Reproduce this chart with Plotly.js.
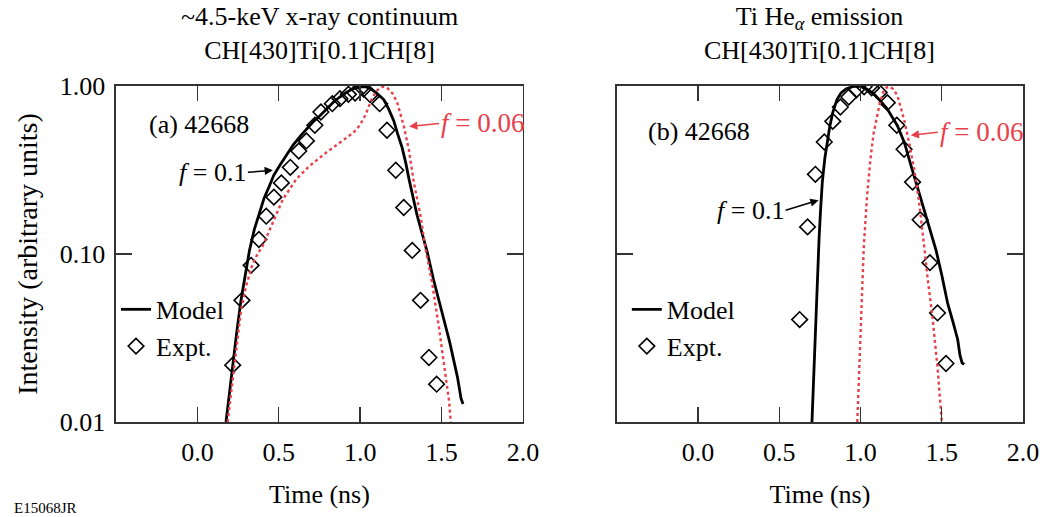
<!DOCTYPE html>
<html>
<head>
<meta charset="utf-8">
<script src="https://cdn.plot.ly/plotly-3.0.1.min.js"></script>
<style>html,body{margin:0;padding:0;background:#fff;}#chart{width:1042px;height:517px;}</style>
</head>
<body>
<div id="chart"></div>
<script>
// ---------- Data ----------
// Panel (a): ~4.5-keV x-ray continuum
const aExptX = [0.217, 0.274, 0.330, 0.378, 0.423, 0.470, 0.516, 0.571, 0.623, 0.670, 0.722, 0.759, 0.829, 0.876, 0.928, 0.969, 1.021, 1.062, 1.120, 1.165, 1.219, 1.268, 1.320, 1.371, 1.423, 1.470];
const aExptY = [0.0218, 0.053, 0.0856, 0.122, 0.168, 0.218, 0.265, 0.328, 0.41, 0.471, 0.584, 0.70, 0.785, 0.841, 0.892, 0.909, 0.96, 0.888, 0.785, 0.545, 0.315, 0.189, 0.105, 0.053, 0.0242, 0.0168];

const aModelX = [0.176, 0.195, 0.217, 0.243, 0.268, 0.295, 0.320, 0.350, 0.380, 0.410, 0.443, 0.470, 0.505, 0.545, 0.588, 0.630, 0.670, 0.710, 0.753, 0.795, 0.835, 0.875, 0.918, 0.960, 1.000, 1.030, 1.062, 1.100, 1.145, 1.175, 1.207, 1.230, 1.258, 1.280, 1.300, 1.350, 1.371, 1.412, 1.450, 1.500, 1.550, 1.598, 1.610, 1.620, 1.632];
const aModelY = [0.010, 0.0145, 0.0223, 0.035, 0.053, 0.078, 0.105, 0.14, 0.175, 0.215, 0.255, 0.295, 0.335, 0.385, 0.445, 0.50, 0.55, 0.61, 0.665, 0.735, 0.80, 0.86, 0.92, 0.965, 0.99, 0.99, 0.966, 0.91, 0.83, 0.73, 0.62, 0.52, 0.43, 0.35, 0.28, 0.17, 0.145, 0.103, 0.071, 0.046, 0.030, 0.0185, 0.0155, 0.0138, 0.0128];

const aF006X = [0.186, 0.205, 0.226, 0.248, 0.268, 0.300, 0.340, 0.370, 0.402, 0.464, 0.526, 0.608, 0.691, 0.794, 0.897, 0.950, 0.980, 1.005, 1.031, 1.052, 1.072, 1.103, 1.134, 1.165, 1.200, 1.227, 1.268, 1.299, 1.330, 1.371, 1.402, 1.443, 1.484, 1.526, 1.546, 1.557];
const aF006Y = [0.010, 0.0145, 0.0212, 0.032, 0.046, 0.065, 0.0877, 0.100, 0.112, 0.154, 0.212, 0.279, 0.336, 0.403, 0.473, 0.52, 0.554, 0.60, 0.667, 0.75, 0.84, 0.94, 0.99, 0.98, 0.90, 0.80, 0.58, 0.42, 0.267, 0.169, 0.107, 0.0667, 0.0368, 0.0185, 0.0135, 0.010];

// Panel (b): Ti He-alpha emission
const bExptX = [0.625, 0.674, 0.722, 0.777, 0.829, 0.876, 0.928, 0.975, 1.022, 1.068, 1.115, 1.165, 1.223, 1.268, 1.320, 1.367, 1.427, 1.474, 1.526];
const bExptY = [0.0407, 0.145, 0.298, 0.464, 0.616, 0.75, 0.86, 0.95, 0.99, 0.975, 0.916, 0.796, 0.584, 0.42, 0.268, 0.16, 0.0888, 0.0446, 0.0223];

const bModelX = [0.701, 0.712, 0.724, 0.735, 0.745, 0.755, 0.765, 0.780, 0.795, 0.810, 0.830, 0.855, 0.880, 0.910, 0.950, 0.980, 1.020, 1.080, 1.120, 1.165, 1.227, 1.270, 1.309, 1.350, 1.390, 1.430, 1.465, 1.500, 1.536, 1.570, 1.598, 1.612, 1.625, 1.638];
const bModelY = [0.010, 0.020, 0.040, 0.075, 0.125, 0.19, 0.27, 0.37, 0.47, 0.57, 0.70, 0.83, 0.91, 0.96, 0.99, 1.00, 0.985, 0.90, 0.82, 0.73, 0.58, 0.46, 0.34, 0.25, 0.185, 0.14, 0.105, 0.075, 0.051, 0.039, 0.031, 0.025, 0.0225, 0.022];

const bF006X = [0.980, 0.995, 1.010, 1.020, 1.040, 1.060, 1.080, 1.100, 1.120, 1.140, 1.160, 1.180, 1.200, 1.227, 1.250, 1.268, 1.299, 1.330, 1.360, 1.382, 1.396, 1.412, 1.443, 1.474, 1.495, 1.500];
const bF006Y = [0.010, 0.025, 0.065, 0.11, 0.22, 0.36, 0.52, 0.66, 0.80, 0.92, 0.98, 0.99, 0.96, 0.88, 0.74, 0.63, 0.46, 0.32, 0.205, 0.14, 0.102, 0.073, 0.042, 0.021, 0.0107, 0.010];

// Tick labels
const xTickVals = [0, 0.5, 1.0, 1.5, 2.0];
const xTickText = ['0.0', '0.5', '1.0', '1.5', '2.0'];
const yTickVals = [0.01, 0.1, 1];
const yTickText = ['0.01', '0.10', '1.00'];

// ---------- Styling ----------
const FONT = '"Liberation Serif", "Times New Roman", Times, serif';
const RED = '#e8404a';
const AX = '#333333';

const lineModel = {color: '#000', width: 2.8};
const lineF006 = {color: RED, width: 2.4, dash: 'dot'};
const mkExpt = {symbol: 'diamond-open', size: 12, color: '#000', line: {width: 1.6, color: '#000'}};

const traces = [
  {x: aModelX, y: aModelY, xaxis: 'x', yaxis: 'y', mode: 'lines', line: lineModel, name: 'Model', legend: 'legend', showlegend: true, hoverinfo: 'skip'},
  {x: aExptX, y: aExptY, xaxis: 'x', yaxis: 'y', mode: 'markers', marker: mkExpt, name: 'Expt.', legend: 'legend', showlegend: true, hoverinfo: 'skip'},
  {x: aF006X, y: aF006Y, xaxis: 'x', yaxis: 'y', mode: 'lines', line: lineF006, name: 'f = 0.06', showlegend: false, hoverinfo: 'skip'},
  {x: bModelX, y: bModelY, xaxis: 'x2', yaxis: 'y2', mode: 'lines', line: lineModel, name: 'Model', legend: 'legend2', showlegend: true, hoverinfo: 'skip'},
  {x: bExptX, y: bExptY, xaxis: 'x2', yaxis: 'y2', mode: 'markers', marker: mkExpt, name: 'Expt.', legend: 'legend2', showlegend: true, hoverinfo: 'skip'},
  {x: bF006X, y: bF006Y, xaxis: 'x2', yaxis: 'y2', mode: 'lines', line: lineF006, name: 'f = 0.06', showlegend: false, hoverinfo: 'skip'}
];

function xAxis(domain, anchor) {
  return {
    domain: domain, anchor: anchor, range: [-0.5, 2.0],
    tickmode: 'array', tickvals: xTickVals, ticktext: xTickText,
    ticks: 'inside', ticklen: 15, tickwidth: 1.4, tickcolor: AX,
    showline: true, linecolor: AX, linewidth: 1.6, mirror: 'ticks',
    showgrid: false, zeroline: false, ticklabelstandoff: 6,
    tickfont: {family: FONT, size: 26, color: '#000'},
    title: {text: 'Time (ns)', standoff: 19, font: {family: FONT, size: 26, color: '#000'}}
  };
}
function yAxis(anchor, showLabels) {
  const o = {
    anchor: anchor, type: 'log', range: [-2, 0],
    tickmode: 'array', tickvals: yTickVals, ticktext: yTickText,
    ticks: 'inside', ticklen: 16, tickwidth: 1.4, tickcolor: AX,
    showline: true, linecolor: AX, linewidth: 1.6, mirror: 'ticks',
    showgrid: false, zeroline: false, showticklabels: showLabels,
    ticklabelstandoff: 4,
    tickfont: {family: FONT, size: 26, color: '#000'}
  };
  if (showLabels) {
    o.title = {text: 'Intensity (arbitrary units)', standoff: 14, font: {family: FONT, size: 28, color: '#000'}};
  }
  return o;
}

const annFont = {family: FONT, size: 26, color: '#000'};
const redFont = {family: FONT, size: 27, color: RED};

const annotations = [
  // panel titles
  {xref: 'x domain', yref: 'y domain', x: 0.5, y: 1.156, xanchor: 'center', yanchor: 'middle', showarrow: false,
   text: '~4.5-keV x-ray continuum<br>CH[430]Ti[0.1]CH[8]', font: annFont},
  {xref: 'x2 domain', yref: 'y2 domain', x: 0.5, y: 1.156, xanchor: 'center', yanchor: 'middle', showarrow: false,
   text: 'Ti He<sub><i>α</i></sub> emission<br>CH[430]Ti[0.1]CH[8]', font: annFont},
  // panel labels
  {xref: 'x domain', yref: 'y domain', x: 0.075, y: 0.884, xanchor: 'left', yanchor: 'middle', showarrow: false,
   text: '(a) 42668', font: annFont},
  {xref: 'x2 domain', yref: 'y2 domain', x: 0.073, y: 0.864, xanchor: 'left', yanchor: 'middle', showarrow: false,
   text: '(b) 42668', font: annFont},
  // f labels with arrows (log axes: y given as log10)
  {xref: 'x', yref: 'y', x: 0.464, y: Math.log10(0.315), ax: -25, ay: 2, axref: 'pixel', ayref: 'pixel',
   xanchor: 'right', yanchor: 'middle', text: '<i>f</i> = 0.1', font: annFont, showarrow: true,
   arrowhead: 2, arrowsize: 1.1, arrowwidth: 1.5, arrowcolor: '#000', standoff: 0},
  {xref: 'x', yref: 'y', x: 1.301, y: Math.log10(0.575), ax: 30, ay: -3, axref: 'pixel', ayref: 'pixel',
   xanchor: 'left', yanchor: 'middle', text: '<i>f</i> = 0.06', font: redFont, showarrow: true,
   arrowhead: 2, arrowsize: 1.1, arrowwidth: 1.5, arrowcolor: RED, standoff: 0},
  {xref: 'x2', yref: 'y2', x: 0.742, y: Math.log10(0.209), ax: -33, ay: 10, axref: 'pixel', ayref: 'pixel',
   xanchor: 'right', yanchor: 'middle', text: '<i>f</i> = 0.1', font: annFont, showarrow: true,
   arrowhead: 2, arrowsize: 1.1, arrowwidth: 1.5, arrowcolor: '#000', standoff: 0},
  {xref: 'x2', yref: 'y2', x: 1.309, y: Math.log10(0.509), ax: 27, ay: -3, axref: 'pixel', ayref: 'pixel',
   xanchor: 'left', yanchor: 'middle', text: '<i>f</i> = 0.06', font: redFont, showarrow: true,
   arrowhead: 2, arrowsize: 1.1, arrowwidth: 1.5, arrowcolor: RED, standoff: 0},
  // figure id
  {xref: 'paper', yref: 'paper', x: -0.1147, y: -0.257, xanchor: 'left', yanchor: 'middle', showarrow: false,
   text: 'E15068JR', font: {family: FONT, size: 15, color: '#000'}}
];

const legendBase = {
  bgcolor: 'rgba(0,0,0,0)', borderwidth: 0, font: {family: FONT, size: 26, color: '#000'},
  xanchor: 'left', yanchor: 'top', itemwidth: 30, tracegroupgap: 0
};

const layout = {
  width: 1042, height: 517,
  margin: {l: 116, r: 19.3, t: 86, b: 95.3, pad: 0},
  paper_bgcolor: '#fff', plot_bgcolor: '#fff',
  font: {family: FONT, size: 26, color: '#000'},
  showlegend: true,
  xaxis: xAxis([0, 0.4486], 'y'),
  yaxis: yAxis('x', true),
  xaxis2: xAxis([0.5522, 1], 'y2'),
  yaxis2: yAxis('x2', false),
  legend: Object.assign({}, legendBase, {x: 0.0, y: 0.405}),
  legend2: Object.assign({}, legendBase, {x: 0.5632, y: 0.405}),
  annotations: annotations
};

Plotly.newPlot('chart', traces, layout, {displayModeBar: false, staticPlot: true});
</script>
</body>
</html>
